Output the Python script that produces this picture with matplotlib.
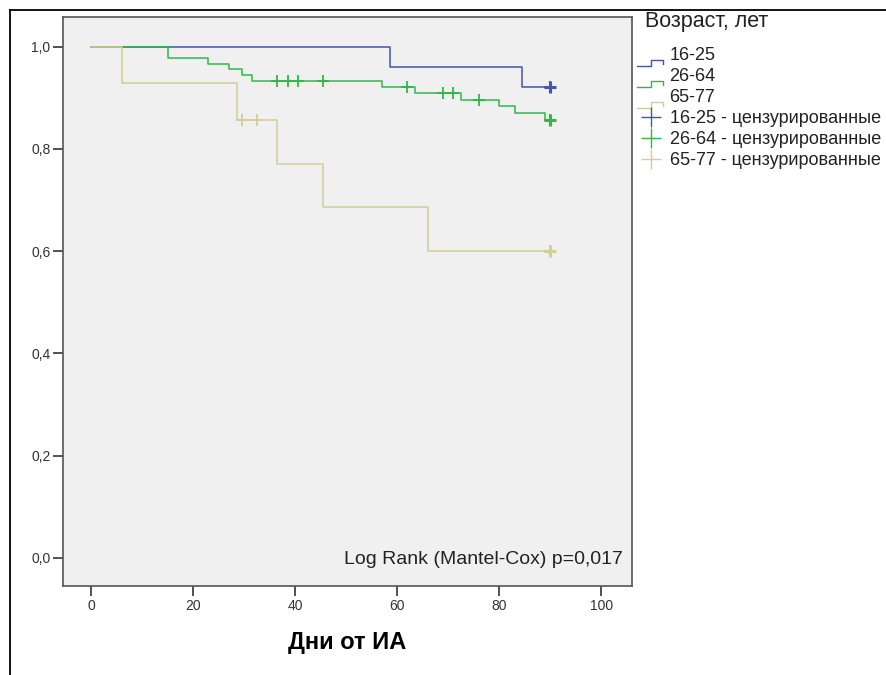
import matplotlib.pyplot as plt
import numpy as np
from matplotlib.lines import Line2D
from matplotlib.legend_handler import HandlerBase

plt.rcParams['font.family'] = ['Liberation Sans', 'DejaVu Sans']

# Kaplan-Meier curves (days, survival)
blue_t = [0, 58.5, 84.5, 90]
blue_s = [1.0, 0.961, 0.921, 0.921]
blue_cens = [90]

green_t = [0, 15, 23, 27, 29.5, 31.5, 57, 63.5, 72.5, 80, 83, 89, 90]
green_s = [1.0, 0.978, 0.967, 0.956, 0.945, 0.933, 0.921, 0.909, 0.896,
           0.883, 0.870, 0.857, 0.857]
green_cens = [36.5, 38.5, 40.5, 45.5, 62, 69, 71, 76, 90]

tan_t = [0, 6, 28.5, 36.5, 45.5, 66, 90]
tan_s = [1.0, 0.929, 0.857, 0.771, 0.686, 0.600, 0.600]
tan_cens = [29.5, 32.5, 90]

groups = ['16-25', '26-64', '65-77']
colors = ['#3e58ac', '#2eb848', '#d3ce97']
y_ticks = [0.0, 0.2, 0.4, 0.6, 0.8, 1.0]
x_ticks = [0, 20, 40, 60, 80, 100]


def surv_at(t, times, surv):
    # value of step function at time t
    i = np.searchsorted(times, t, side='right') - 1
    return surv[i]


class StepHandler(HandlerBase):
    # little "_|‾|" step icon like SPSS draws
    def create_artists(self, legend, orig_handle, xdescent, ydescent,
                       width, height, fontsize, trans):
        w = width
        h = height
        xs = [0, 0.5 * w, 0.5 * w, 0.95 * w, 0.95 * w]
        ys = [-0.45 * h, -0.45 * h, 0.0, 0.0, -0.3 * h]
        ln = Line2D(xs, ys, color=orig_handle.get_color(), lw=1.0,
                    transform=trans)
        return [ln]


fig = plt.figure(figsize=(8.86, 6.75), dpi=100)
ax = fig.add_axes([63 / 886, 1 - 586 / 675, 569 / 886, 569 / 675])
ax.set_facecolor('#f0f0f0')

series = [(blue_t, blue_s, blue_cens), (green_t, green_s, green_cens),
          (tan_t, tan_s, tan_cens)]
step_handles = []
cens_handles = []
for (t, s, c), col, g in zip(series, colors, groups):
    ln, = ax.step(t, s, where='post', color=col, lw=1.1)
    step_handles.append(ln)
    cy = [surv_at(ci, t, s) for ci in c]
    ax.plot(c, cy, linestyle='None', marker='+', color=col, ms=8, mew=1.3)
    ax.plot(c[-1:], cy[-1:], linestyle='None', marker='+', color=col,
            ms=9, mew=2.2)
    cens_handles.append(Line2D([], [], linestyle='None', marker='+',
                               color=col, ms=14, mew=1.0))

ax.set_xlim(-5.5, 106)
ax.set_ylim(-0.055, 1.058)
ax.set_xticks(x_ticks)
ax.set_xticklabels([str(v) for v in x_ticks])
ax.set_yticks(y_ticks)
ax.set_yticklabels([('%.1f' % v).replace('.', ',') for v in y_ticks])
ax.tick_params(direction='out', length=7, width=1.2, color='#333333',
               labelsize=10, labelcolor='#333333', pad=2)
for sp in ax.spines.values():
    sp.set_color('#555555')
    sp.set_linewidth(1.2)

ax.set_xlabel('Дни от ИА', fontsize=17, fontweight='bold', labelpad=13)
ax.text(0.984, 0.046, 'Log Rank (Mantel-Cox) p=0,017', transform=ax.transAxes,
        ha='right', va='center', fontsize=14, color='#222222')

fig.text(645 / 886, 1 - 22 / 675, 'Возраст, лет', fontsize=15.5, va='center',
         ha='left', color='#222222')
labels = groups + [g + ' - цензурированные' for g in groups]
handles = step_handles + cens_handles
hmap = {h: StepHandler() for h in step_handles}
fig.legend(handles, labels, loc='upper left',
           bbox_to_anchor=(637 / 886, 1 - 47 / 675), frameon=False,
           fontsize=13, handlelength=1.5, handletextpad=0.3,
           labelspacing=0.22, handler_map=hmap, borderaxespad=0,
           borderpad=0, labelcolor='#222222')

# outer frame lines
fig.add_artist(Line2D([10 / 886, 1], [1 - 10 / 675, 1 - 10 / 675],
                      color='black', lw=1.3, transform=fig.transFigure))
fig.add_artist(Line2D([10 / 886, 10 / 886], [0, 1 - 10 / 675],
                      color='black', lw=1.3, transform=fig.transFigure))

fig.savefig('out.png', dpi=100, facecolor='white')
